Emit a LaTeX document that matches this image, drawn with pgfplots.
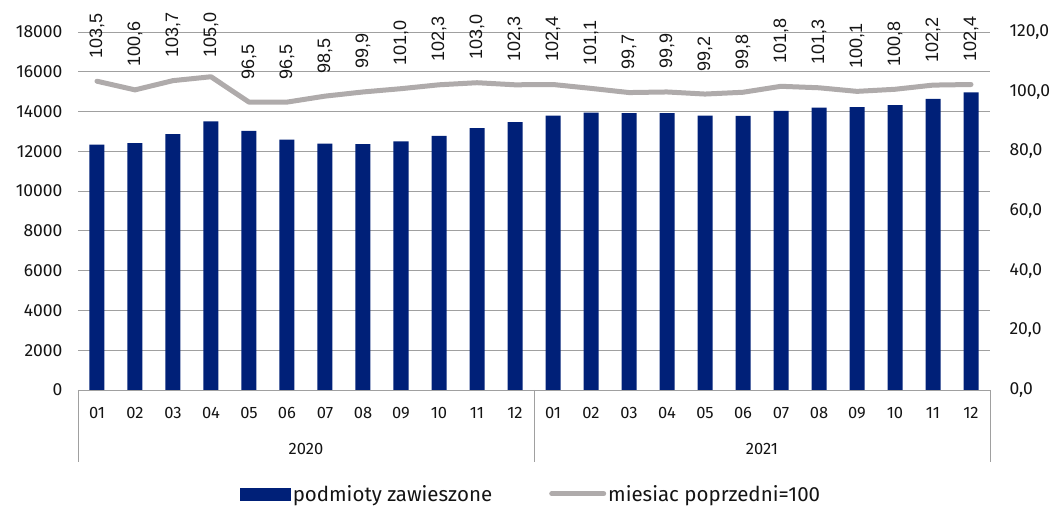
\documentclass[border=0pt]{standalone}
\usepackage{pgfplots}
\pgfplotsset{compat=1.18}
\usepackage{fontspec}
\setmainfont{Fira Sans}
\newfontfamily\lblfont{Liberation Sans}
\definecolor{barblue}{RGB}{0,32,120}
\definecolor{linegray}{RGB}{175,171,171}
\definecolor{gridgray}{RGB}{160,160,160}
\definecolor{txt}{RGB}{20,20,20}

\pgfplotstableread{
x y
0 12333
1 12417
2 12867
3 13500
4 13033
5 12583
6 12383
7 12367
8 12500
9 12783
10 13167
11 13467
12 13800
13 13950
14 13917
15 13917
16 13800
17 13783
18 14033
19 14200
20 14217
21 14317
22 14633
23 14967
}\bars

\pgfplotstableread{
x y lab
0 103.5 103,5
1 100.6 100,6
2 103.7 103,7
3 105.0 105,0
4 96.5 96,5
5 96.5 96,5
6 98.5 98,5
7 99.9 99,9
8 101.0 101,0
9 102.3 102,3
10 103.0 103,0
11 102.3 102,3
12 102.4 102,4
13 101.1 101,1
14 99.7 99,7
15 99.9 99,9
16 99.2 99,2
17 99.8 99,8
18 101.8 101,8
19 101.3 101,3
20 100.1 100,1
21 100.8 100,8
22 102.2 102,2
23 102.4 102,4
}\ratio

\begin{document}
\begin{tikzpicture}[font=\fontsize{17.5}{21}\selectfont, text=txt]
\pgfplotsset{common/.style={
  scale only axis, width=912pt, height=358pt, xmin=-0.5, xmax=23.5,
  at={(0,0)}, anchor=south west, clip=false, major tick length=0pt,
},
lbl/.style={draw=none, forget plot, nodes near coords, point meta=explicit symbolic,
  every node near coord/.style={text=txt, font=\lblfont\fontsize{18}{22}\selectfont, rotate=90, anchor=west, xshift=#1, inner sep=0pt, outer sep=0pt}}}
\begin{axis}[common,
  ymin=0, ymax=18000, ytick={0,2000,...,18000},
  ymajorgrids, grid style={gridgray, line width=0.8pt},
  axis x line*=bottom, axis y line*=left,
  x axis line style={gridgray, line width=0.8pt, -},
  y axis line style={draw=none},
  xtick={0,...,23},
  xticklabels={01,02,03,04,05,06,07,08,09,10,11,12,01,02,03,04,05,06,07,08,09,10,11,12},
  xticklabel style={yshift=-14pt, font=\fontsize{16.5}{20}\selectfont},
  yticklabel style={xshift=-12pt, /pgf/number format/1000 sep={}, /pgf/number format/assume math mode=true},
  scaled y ticks=false,
]
\addplot[ybar, bar width=15pt, fill=barblue, draw=none] table[x=x,y=y] {\bars};
\draw[gridgray, line width=0.8pt] (axis cs:-0.5,0) -- ++(0pt,-72pt);
\draw[gridgray, line width=0.8pt] (axis cs:11.5,0) -- ++(0pt,-72pt);
\draw[gridgray, line width=0.8pt] (axis cs:23.5,0) -- ++(0pt,-72pt);
\node[font=\fontsize{16.5}{20}\selectfont] at (axis cs:5.5,0) [yshift=-59pt] {2020};
\node[font=\fontsize{16.5}{20}\selectfont] at (axis cs:17.5,0) [yshift=-59pt] {2021};
\end{axis}
\begin{axis}[common,
  ymin=0, ymax=120, ytick={0,20,...,120},
  axis y line*=right, axis x line=none,
  y axis line style={draw=none},
  yticklabel style={xshift=16pt, /pgf/number format/.cd, fixed, fixed zerofill, precision=1, use comma, assume math mode=true},
  legend style={at={(0.497,-0.29)}, anchor=center, draw=none, fill=none,
    font=\fontsize{20.5}{24}\selectfont,
    /tikz/every even column/.append style={column sep=55pt}},
  legend columns=2, legend cell align=left,
]
\addlegendimage{legend image code/.code={\fill[barblue] (0pt,-6pt) rectangle (50pt,6pt);}}
\addlegendentry{podmioty zawieszone}
\addplot[linegray, line width=5pt, line join=round, line cap=round,
  legend image code/.code={\draw[linegray, line width=5pt, line cap=round] (0pt,0pt) -- (52pt,0pt);}]
  table[x=x,y=y] {\ratio};
\addlegendentry{miesiac poprzedni=100}
\addplot[lbl=23pt, skip coords between index={3}{4}] table[x=x,y=y,meta=lab] {\ratio};
\addplot[lbl=19pt, skip coords between index={0}{3}, skip coords between index={4}{24}] table[x=x,y=y,meta=lab] {\ratio};
\end{axis}
\pgfresetboundingbox
\path (-78pt,-116pt) rectangle (975pt,390pt);
\end{tikzpicture}
\end{document}
